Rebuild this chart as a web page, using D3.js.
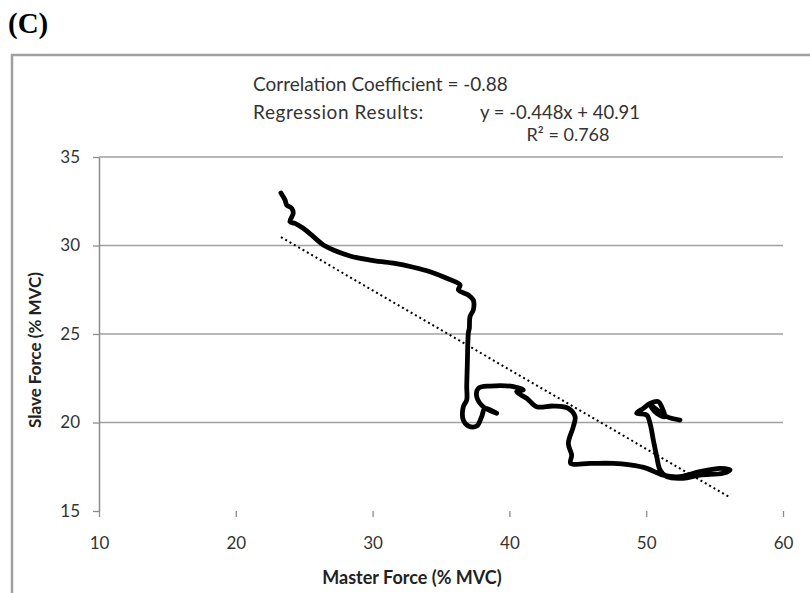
<!DOCTYPE html>
<html><head><meta charset="utf-8">
<script src="https://cdn.jsdelivr.net/npm/d3@7"></script>
<style>body{margin:0;background:#fff} svg{display:block}</style>
</head><body>
<svg id="chart" width="810" height="593"></svg>
<script>
// ---- data ----
const masterForce = [23.30,23.60,23.72,24.09,24.20,23.96,24.33,24.93,25.67,26.40,
  27.13,28.35,29.81,31.51,32.98,34.20,35.42,36.39,36.27,37.00,
  37.36,37.36,37.12,37.07,37.00,36.92,36.88,36.88,36.63,36.63,
  37.00,37.61,37.97,38.22,39.07,38.09,37.61,37.73,38.58,40.29,
  41.02,40.53,41.26,41.99,43.21,44.31,44.80,44.67,44.31,44.55,
  44.48,45.89,47.60,48.82,50.04,51.23,52.47,53.93,55.40,56.13,
  55.61,53.93,52.69,51.50,51.01,50.77,50.52,50.28,50.04,49.30,
  49.79,50.28,50.89,51.13,51.37,50.77,50.28,51.50,52.47];
const slaveForce = [32.97,32.57,32.29,32.10,31.82,31.34,31.25,30.97,30.50,30.03,
  29.75,29.41,29.18,29.00,28.77,28.52,28.15,27.77,27.49,27.20,
  26.92,26.36,25.98,25.32,25.06,23.15,22.02,21.27,20.89,20.14,
  19.80,19.80,20.33,20.80,20.52,20.89,21.46,21.93,22.06,22.03,
  21.84,21.74,21.37,20.89,20.93,20.80,20.33,19.76,18.82,18.16,
  17.69,17.69,17.69,17.60,17.41,17.03,16.94,17.22,17.41,17.32,
  17.13,17.03,16.85,16.94,17.32,18.07,19.01,19.95,20.42,20.52,
  20.80,21.08,21.18,20.89,20.33,20.52,21.00,20.33,20.14];
const xTicks = [10,20,30,40,50,60];
const yTicks = [15,20,25,30,35];
const panelLabel = "(C)";
const xTitle = "Master Force (% MVC)";
const yTitle = "Slave Force (% MVC)";
const correlationText = "Correlation Coefficient = -0.88";
const regressionLabel = "Regression Results:";
const regressionSlope = -0.448;
const regressionIntercept = 40.91;
const equationText = "y = -0.448x + 40.91";
const r2Text = "R\u00B2 = 0.768";

// ---- drawing ----
const svg = d3.select("#chart");
const x = d3.scaleLinear().domain([10, 60]).range([99, 783]);
const y = d3.scaleLinear().domain([15, 35]).range([511, 157]);
const FONT = "Lato, 'Open Sans', sans-serif";

// outer frame
svg.append("path").attr("d", "M12,593V55H810")
  .attr("fill", "none").attr("stroke", "#a0a0a0").attr("stroke-width", 2.5);

// panel label
svg.append("text").attr("x", 8).attr("y", 33)
  .attr("font-family", "'Liberation Serif', 'Times New Roman', serif")
  .attr("font-weight", "bold").attr("font-size", 29).attr("fill", "#000")
  .text(panelLabel);

// gridlines
svg.append("g").selectAll("line").data(yTicks.filter(t => t > 15)).join("line")
  .attr("x1", x(10)).attr("x2", x(60))
  .attr("y1", d => y(d)).attr("y2", d => y(d))
  .attr("stroke", "#a0a0a0").attr("stroke-width", 1.3);

// y axis
const gy = svg.append("g").attr("transform", `translate(${x(10)},0)`)
  .call(d3.axisLeft(y).tickValues(yTicks).tickSize(6).tickSizeOuter(0).tickPadding(13));
gy.select(".domain").attr("stroke", "#8c8c8c").attr("stroke-width", 1.5);
gy.selectAll(".tick line").attr("stroke", "#8c8c8c").attr("stroke-width", 1.3);
gy.selectAll(".tick text").attr("font-family", FONT).attr("font-size", 17).attr("fill", "#333");

// x axis (no domain line)
const gx = svg.append("g").attr("transform", `translate(0,${y(15)})`)
  .call(d3.axisBottom(x).tickValues(xTicks).tickSize(6).tickSizeOuter(0).tickPadding(20));
gx.select(".domain").remove();
gx.selectAll(".tick line").attr("stroke", "#8c8c8c").attr("stroke-width", 1.3);
gx.selectAll(".tick text").attr("font-family", FONT).attr("font-size", 17).attr("fill", "#333");

// data trace
const pts = masterForce.map((m, i) => [m, slaveForce[i]]);
svg.append("path").datum(pts)
  .attr("d", d3.line().x(d => x(d[0])).y(d => y(d[1])).curve(d3.curveCatmullRom.alpha(0.5)))
  .attr("fill", "none").attr("stroke", "#000").attr("stroke-width", 4.8)
  .attr("stroke-linejoin", "round").attr("stroke-linecap", "round");

// regression trendline
const [xmin, xmax] = d3.extent(masterForce);
svg.append("line")
  .attr("x1", x(xmin)).attr("y1", y(regressionSlope * xmin + regressionIntercept))
  .attr("x2", x(xmax)).attr("y2", y(regressionSlope * xmax + regressionIntercept))
  .attr("stroke", "#000").attr("stroke-width", 2).attr("stroke-dasharray", "2,3");

// axis titles
svg.append("text").attr("x", 412).attr("y", 584).attr("text-anchor", "middle")
  .attr("font-family", FONT).attr("font-weight", "bold").attr("font-size", 18).attr("fill", "#222")
  .text(xTitle);
svg.append("text").attr("transform", "translate(41,350) rotate(-90)").attr("text-anchor", "middle")
  .attr("font-family", FONT).attr("font-weight", "bold").attr("font-size", 17).attr("fill", "#222")
  .text(yTitle);

// annotations
const ann = svg.append("g").attr("font-family", FONT).attr("fill", "#333");
ann.append("text").attr("x", 253).attr("y", 91).attr("font-size", 19).text(correlationText);
ann.append("text").attr("x", 253).attr("y", 119).attr("font-size", 19)
  .attr("letter-spacing", 0.6).text(regressionLabel);
ann.append("text").attr("x", 560).attr("y", 119).attr("text-anchor", "middle")
  .attr("font-size", 18.5).text(equationText);
ann.append("text").attr("x", 568).attr("y", 141).attr("text-anchor", "middle")
  .attr("font-size", 18).text(r2Text);
</script>
</body></html>
